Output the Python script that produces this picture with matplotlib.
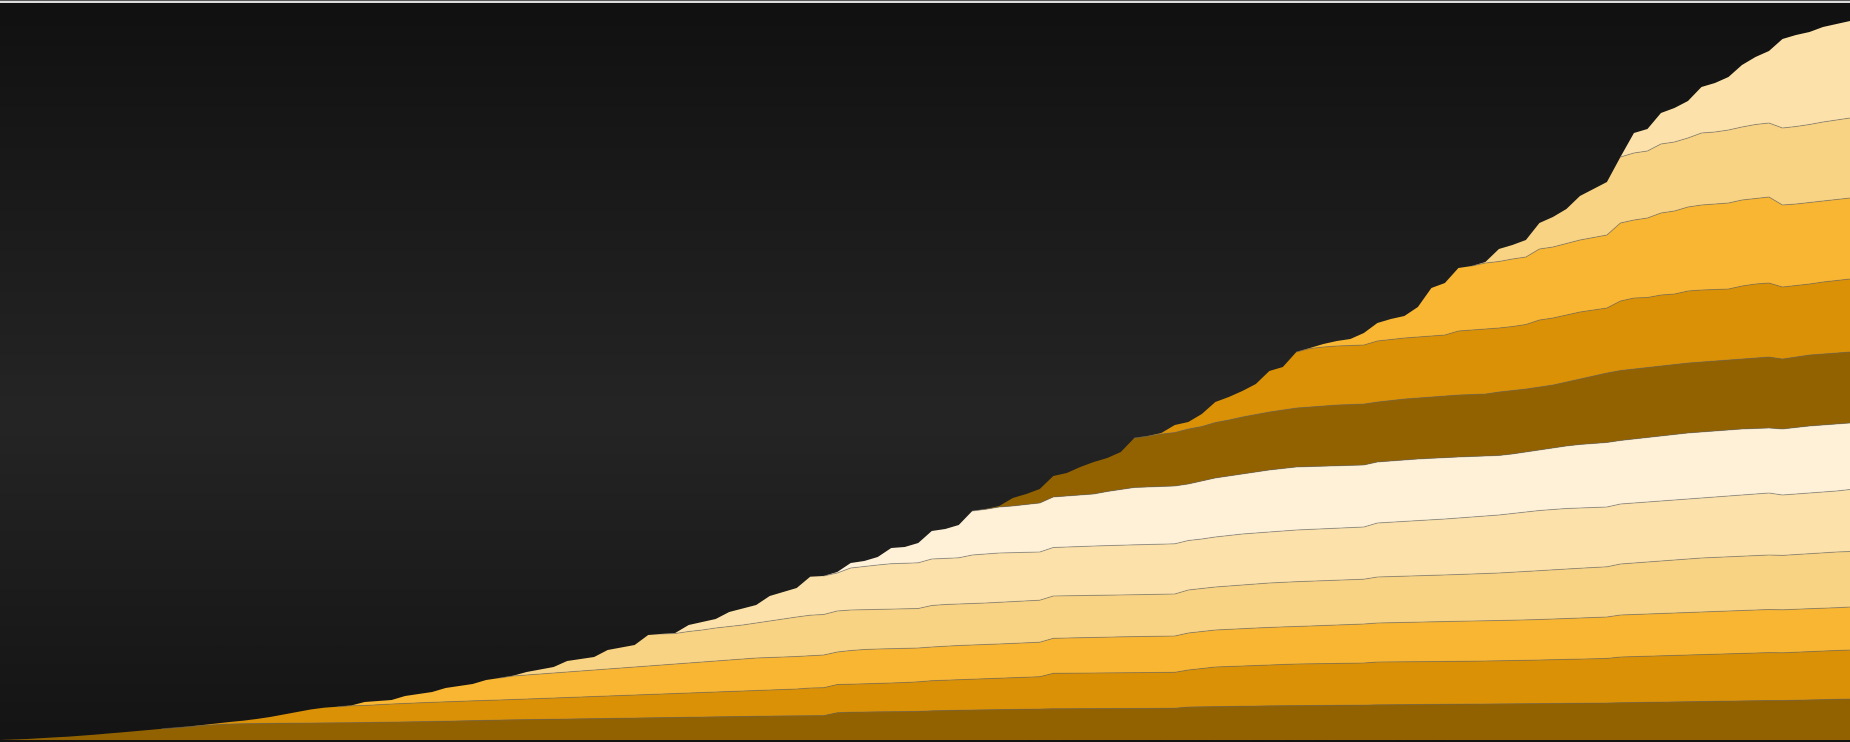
import numpy as np
import matplotlib
matplotlib.use("Agg")
import matplotlib.pyplot as plt
from matplotlib.colors import LinearSegmentedColormap
from matplotlib.patches import Rectangle

# ---------------- data (monthly, 138 points) ----------------
months = np.arange(138)

cohort_01 = [0, 0.5, 1, 1.8, 2.6, 3.3, 4.3, 5.3, 6.5, 7.6, 8.8, 10, 11.2,
             12.2, 13.3, 14.5, 15.3, 16, 16.3, 16.5, 16.7, 16.8, 16.9, 17, 17.1,
             17.2, 17.3, 17.5, 17.7, 17.9, 18.1, 18.3, 18.5, 18.8, 19.1, 19.4, 19.7,
             20, 20.2, 20.4, 20.6, 20.8, 21, 21.2, 21.4, 21.6, 21.8, 22, 22.2,
             22.4, 22.6, 22.8, 23, 23.2, 23.4, 23.6, 23.8, 24, 24.1, 24.2, 24.3,
             24.4, 27.3, 27.8, 28, 28.2, 28.3, 28.4, 28.6, 29.2, 29.5, 29.8, 30,
             30.2, 30.4, 30.6, 30.8, 31, 31.3, 31.3, 31.4, 31.4, 31.5, 31.5, 31.6,
             31.6, 31.7, 31.8, 33, 33.2, 33.4, 33.6, 33.8, 34, 34.2, 34.3, 34.4,
             34.5, 34.6, 34.7, 34.8, 34.9, 35.2, 35.3, 35.4, 35.5, 35.6, 35.7, 35.8,
             35.9, 36, 36.1, 36.2, 36.3, 36.4, 36.5, 36.6, 36.7, 36.8, 37, 37.3,
             37.5, 37.7, 37.9, 38.1, 38.3, 38.5, 38.7, 38.9, 39.1, 39.3, 39.5, 39.5,
             39.8, 40.1, 40.4, 40.7, 41]

cohort_02 = [0] * 13 + [
    0.1, 0.2, 0.5, 1.2, 2, 3, 4.5, 6.3, 8.7, 11.1, 13.5, 15.2,
    16.1, 16.9, 17, 17.6, 18.1, 18.5, 18.9, 19.2, 19.4, 19.6, 19.8, 19.9,
    20, 20.3, 20.6, 20.9, 21.2, 21.5, 21.8, 22.1, 22.4, 22.7, 23, 23.3,
    23.6, 23.9, 24.2, 24.5, 24.8, 25.1, 25.4, 25.7, 26, 26.4, 26.8, 27.7,
    27.9, 28.2, 28, 28.2, 28.4, 28.7, 29.1, 29.6, 30.1, 30.3, 30.5, 30.8,
    31.1, 31.4, 31.7, 32, 32.3, 35.4, 35.5, 35.5, 35.6, 35.6, 35.7, 35.7,
    35.8, 35.8, 35.9, 37, 38.3, 39.6, 39.9, 40.2, 40.5, 40.8, 41.2, 41.6,
    41.7, 41.8, 41.9, 42, 42.1, 42.8, 42.8, 42.8, 42.8, 42.8, 42.8, 42.8,
    42.9, 43, 43.1, 43.3, 43.4, 43.6, 43.8, 44, 44.2, 44.4, 44.6, 45.7,
    45.9, 46.1, 46.3, 46.5, 46.7, 46.9, 47.1, 47.3, 47.5, 47.7, 47.9, 47.7,
    48, 48.3, 48.6, 48.8, 49]

cohort_03 = [0] * 26 + [
    0.3,
    3.5, 3.7, 4, 7.4, 8.8, 10.3, 13.8, 15.3, 16.8, 20.4, 22,
    23.5, 24, 24.5, 25, 25.5, 26, 26.5, 27, 27.5, 28, 28.5, 29,
    29.5, 30, 30.5, 31, 31.5, 32, 32.5, 32.5, 32.5, 32.5, 32.3, 32.7,
    32.5, 33.7, 34.3, 34.4, 34.3, 34.1, 33.8, 33.7, 34, 34.2, 34.2, 34.2,
    34.2, 34.3, 34.4, 34.5, 35, 35.2, 35.4, 35.6, 35.8, 36, 36.1, 36.2,
    36.3, 36.3, 37, 37, 37, 37.2, 37.3, 37.5, 37.6, 37.6, 37.5, 37.8,
    38.1, 38.4, 38.7, 39, 39, 39.2, 39.4, 39.6, 39.8, 40, 40.2, 40.2,
    40.2, 40.3, 40.3, 40.4, 40.5, 40.7, 40.9, 41.1, 41.3, 41.4, 42, 42.1,
    42.2, 42.3, 42.4, 42.5, 42.6, 42.7, 42.8, 42.9, 43, 43.1, 43, 43,
    42.9, 42.8, 42.8, 43]

cohort_04 = [0] * 38 + [
    0.3, 3, 4.5, 6, 11, 12, 13, 19, 20.5, 22, 31, 31,
    30.5, 31.5, 32, 33, 33.5, 34, 35, 36.5, 38, 39.5, 40.5, 40.5,
    41, 40.5, 39.8, 39.6, 39.6, 39.6, 39.5, 41.5, 41.7, 41.5, 41.5, 41.5,
    41.7, 41.8, 41.9, 42, 42.3, 42.2, 42.1, 42, 41.9, 41.8, 41.8, 41.9,
    42, 42, 43, 43, 43, 43.3, 43.7, 44, 44.4, 44.6, 44.8, 44.8,
    44.8, 44.8, 44.8, 44.8, 46, 46.1, 46.2, 46.3, 46.4, 46.5, 46.7, 47,
    47.3, 47.5, 48, 48.4, 48.8, 49.2, 49.5, 49.8, 50, 50.2, 51, 51.5,
    52, 52.5, 53, 53.5, 54, 54.1, 54.2, 54.3, 54.4, 54.5, 54.4, 54.7,
    55, 55.3, 55.7, 55.5]

cohort_05 = [0] * 50 + [
    0.5, 6.5, 8, 9, 14.5, 16.5, 18, 25, 27, 29, 38.5, 38.5,
    38, 42, 43.2, 44.4, 45.4, 45.5, 45.7, 46.5, 46.1, 46.2, 48.5, 49,
    49.3, 48.9, 48.6, 48.2, 48.5, 48.8, 49.1, 49.4, 49.6, 49.8, 50, 50,
    50, 50.2, 49.5, 49.5, 50, 50.5, 51, 51, 51, 51.3, 51.7, 51.8,
    51.9, 52, 52.1, 52.2, 54, 54.4, 54.8, 55.2, 55.6, 56, 56.5, 57,
    57.5, 58, 58.7, 59.5, 60.2, 60.3, 60.5, 60.2, 60, 59.8, 60, 60,
    60, 60, 60, 60, 60, 60.4, 60.8, 61.2, 61.6, 62, 60.4, 60.5,
    60.7, 60.9, 61, 62]

cohort_06 = [0] * 62 + [
    1, 5, 5.5, 8, 15.7, 16.3, 19.8, 28, 29.4, 32.8, 44, 44.7,
    46, 46.7, 47.8, 49, 50.5, 51, 51.5, 52, 54.1, 55.7, 57.3, 57.5,
    57.7, 57.8, 56.5, 58, 59, 59.5, 60, 61, 62, 62.5, 63, 62.8,
    62.6, 62.4, 62.2, 62, 61, 61.2, 61.4, 61.6, 61.5, 61.3, 61, 60.5,
    60, 59.5, 59.5, 60, 60.5, 61.5, 62.5, 63.5, 64, 64.5, 63.5, 64,
    64.5, 65, 65.5, 66, 66, 66, 66, 66, 65.5, 65, 66, 66.5,
    67, 67, 67, 66.5]

cohort_07 = [0] * 73 + [
    0.3, 1, 8, 10.5, 14, 21, 23, 28, 32, 33.5, 37.5, 49.5,
    50.7, 52.5, 53.5, 55, 54.5, 55.5, 56, 57, 57.5, 58, 58.5, 59,
    59.6, 60.2, 60.8, 60.9, 61, 60, 60.5, 61, 61, 61.3, 61.7, 62,
    62, 62, 63.5, 63.5, 63, 63, 63, 64, 65.5, 67.5, 69.5, 70,
    70, 70, 70, 70, 70, 70, 70, 70, 70, 70.5, 71, 70,
    70.5, 71, 71, 71, 71]

cohort_08 = [0] * 85 + [
    0.3, 1, 7.5, 7, 12.5, 20.5, 23, 26, 30.5, 41, 43, 56,
    58.5, 59, 59, 59, 59, 61, 61, 61, 61, 61, 61, 64,
    64.5, 65, 64, 64, 64.5, 67, 67, 67, 67, 66, 65, 69.5,
    71, 70, 71, 70.5, 72, 72, 71.5, 71, 73, 74, 74, 72,
    71.5, 71, 72, 72.5, 73]

cohort_09 = [0] * 97 + [
    0.5, 3, 5, 6.5, 12, 18, 20.5, 22, 30, 48, 52, 63,
    64, 66, 66.5, 67.5, 67.5, 71, 71, 71.5, 72, 72.5, 73, 78,
    78, 79.5, 82, 83, 84, 85, 85.5, 86, 86, 85.5, 86, 82,
    81.5, 81.5, 81, 81, 81]

cohort_10 = [0] * 110 + [
    1, 12.5, 14, 17, 26, 30, 34.5, 44, 48.5, 53, 66, 67,
    67, 69, 69, 69, 72, 72, 73, 73, 74, 74, 77, 77.5,
    78, 79, 79.5, 80]

cohort_11 = [0] * 121 + [
    20, 22, 31, 34, 37, 46, 49, 53, 62, 67.5, 72, 89,
    91.5, 92.5, 95, 96, 97]

series = [cohort_01, cohort_02, cohort_03, cohort_04, cohort_05, cohort_06,
          cohort_07, cohort_08, cohort_09, cohort_10, cohort_11]

palette = ["#936200", "#DA9106", "#F8B633", "#F9D384", "#FCE2AA", "#FEF1D8"]
colors = [palette[k % 6] for k in range(len(series))]

# ---------------- figure ----------------
fig = plt.figure(figsize=(18.5, 7.42), dpi=100, facecolor="#dcdcdc")
ax = fig.add_axes([0, 0, 1, 739 / 742])
ax.set_xlim(0, 137)
ax.set_ylim(-2, 737)
ax.axis("off")

bg = LinearSegmentedColormap.from_list(
    "bg", [(0.0, "#141414"), (0.44, "#252525"), (1.0, "#111111")])
ax.imshow(np.linspace(0, 1, 512).reshape(-1, 1), origin="lower", cmap=bg,
          extent=[0, 137, -2, 737], aspect="auto", zorder=0)

data = np.array(series, dtype=float)
ax.stackplot(months, data, colors=colors, linewidth=0, zorder=2)

cum = np.cumsum(data, axis=0)
for k in range(len(series) - 1):
    upper = data[k + 1] > 0
    show = upper | np.append(upper[1:], False)
    yb = np.where(show, cum[k], np.nan)
    ax.plot(months, yb, color=(0.42, 0.42, 0.42, 0.5), lw=0.7, zorder=3,
            solid_joinstyle="round")

fig.add_artist(Rectangle((0, 741 / 742), 1, 1 / 742, transform=fig.transFigure,
                         color="#5a5a5a", lw=0))

fig.savefig("out.png", dpi=100, facecolor=fig.get_facecolor())
